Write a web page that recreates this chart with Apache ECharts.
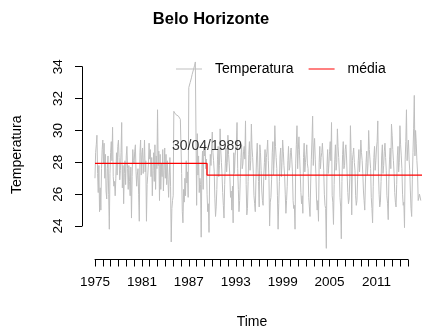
<!DOCTYPE html>
<html>
<head>
<meta charset="utf-8">
<script src="https://cdn.jsdelivr.net/npm/echarts@6/dist/echarts.min.js"></script>
<style>
	html, body { margin: 0; padding: 0; background: #fff; }
	#chart-div { width: 422px; height: 336px; }
</style>
</head>
<body>
<div id="chart-div"></div>
<script>
// série mensal, começa em jan/1975
var ano_inicio = 1975;
var temperatura = [
	27.0, 28.6, 29.1, 29.7, 27.3, 26.1, 27.8, 24.9, 26.4, 25.0, 27.6, 28.8, // 1975
	29.4, 27.9, 29.2, 27.0, 28.5, 26.2, 25.7, 27.6, 28.4, 26.0, 23.8, 27.3,
	28.6, 29.3, 28.1, 30.2, 27.1, 26.5, 26.8, 25.9, 27.0, 28.6, 27.2, 29.0,
	29.4, 28.3, 26.9, 27.5, 28.6, 30.5, 26.4, 27.8, 25.4, 27.3, 28.1, 26.6,
	28.4, 29.0, 27.6, 26.3, 27.8, 26.8, 25.9, 27.7, 24.5, 27.1, 28.8, 28.1,
	27.9, 28.7, 29.1, 27.4, 26.5, 27.2, 27.6, 26.0, 24.3, 28.6, 29.4, 27.2, // 1980
	28.5, 28.9, 27.3, 28.0, 29.4, 27.4, 28.1, 24.3, 26.6, 27.2, 27.9, 29.2,
	28.2, 28.8, 27.1, 28.3, 25.9, 27.5, 28.6, 26.8, 29.1, 26.3, 28.4, 27.6,
	31.3, 27.8, 28.7, 25.6, 28.5, 26.3, 27.9, 27.1, 28.8, 26.2, 27.5, 28.9,
	27.0, 28.5, 26.6, 28.1, 26.9, 25.8, 27.2, 28.3, 26.5, 23.0, 25.1, 25.6,
	25.9, 31.2, 31.1, 31.1, 31.0, 31.0, 30.9, 30.9, 30.9, 30.8, 30.8, 30.7, // 1985
	30.7, 27.3, 24.9, 24.2, 26.3, 25.5, 27.0, 25.9, 28.1, 26.7, 27.4, 25.8,
	32.7, 32.8, 33.0, 33.1, 33.3, 33.5, 33.6, 33.8, 33.9, 34.1, 34.3, 34.4,
	25.3, 29.8, 27.2, 28.4, 26.1, 27.0, 26.6, 23.3, 27.6, 28.7, 26.3, 28.9,
	28.4, 29.1, 27.6, 28.2, 26.0, 24.9, 25.4, 23.6, 27.3, 28.5, 27.8, 28.9,
	29.9, 28.6, 28.1, 27.4, 25.7, 24.6, 25.2, 26.3, 28.2, 29.0, 27.1, 27.8, // 1990
	30.1, 28.8, 28.0, 27.2, 26.1, 25.3, 24.5, 26.6, 27.9, 28.9, 27.4, 28.0,
	29.7, 28.5, 27.9, 27.1, 25.8, 26.2, 25.0, 26.5, 24.2, 28.6, 27.3, 28.4,
	28.9, 29.2, 30.5, 27.6, 26.3, 24.9, 25.6, 27.0, 28.3, 29.1, 27.6, 27.9,
	28.7, 29.0, 28.2, 30.6, 26.6, 24.7, 25.1, 26.8, 28.5, 29.3, 27.5, 28.1,
	30.4, 28.9, 28.3, 27.3, 25.9, 25.4, 24.9, 26.9, 28.4, 29.2, 27.7, 26.8, // 1995
	25.2, 29.1, 28.6, 27.5, 26.2, 25.6, 25.3, 27.1, 28.0, 28.8, 26.9, 28.3,
	28.7, 29.4, 28.1, 27.0, 24.0, 25.5, 25.8, 26.9, 28.6, 29.3, 27.2, 28.2,
	30.3, 29.0, 28.3, 27.6, 25.9, 23.8, 25.4, 26.8, 28.4, 28.9, 27.1, 28.0,
	29.4, 28.7, 27.8, 27.2, 26.0, 24.8, 25.6, 26.5, 28.1, 29.0, 27.5, 27.7,
	28.6, 28.9, 28.2, 27.4, 25.6, 25.1, 25.3, 23.8, 27.9, 29.1, 30.3, 27.6, // 2000
	28.8, 29.6, 28.4, 27.3, 26.1, 25.4, 25.9, 24.8, 28.3, 29.2, 27.4, 28.0,
	28.5, 29.1, 27.9, 27.6, 25.8, 25.2, 24.6, 26.7, 28.2, 29.4, 30.9, 27.8,
	28.9, 29.5, 28.2, 27.3, 25.7, 25.0, 25.6, 24.3, 28.0, 29.0, 27.6, 28.3,
	28.6, 29.2, 28.4, 27.5, 26.0, 25.3, 25.1, 22.6, 27.7, 28.8, 27.3, 27.9,
	28.7, 29.3, 28.1, 30.5, 25.9, 25.5, 24.1, 26.6, 28.2, 29.1, 27.5, 28.0, // 2005
	30.1, 29.0, 28.3, 27.4, 25.8, 25.2, 23.2, 26.8, 28.5, 29.3, 27.6, 27.8,
	28.8, 29.1, 28.4, 27.2, 26.1, 25.4, 25.7, 27.0, 30.3, 28.6, 24.7, 28.1,
	28.5, 28.9, 28.0, 27.5, 25.9, 25.3, 25.6, 26.9, 28.1, 28.8, 27.4, 28.2,
	29.4, 28.6, 28.1, 27.3, 26.2, 25.6, 25.0, 26.7, 28.0, 28.7, 27.2, 27.9,
	30.0, 28.8, 28.2, 27.6, 25.8, 25.1, 24.2, 26.5, 28.3, 29.0, 27.5, 28.1, // 2010
	28.9, 29.3, 30.6, 27.4, 26.0, 25.2, 25.5, 26.8, 28.4, 29.1, 27.3, 27.8,
	28.7, 29.2, 28.3, 27.5, 25.9, 25.4, 24.4, 26.9, 28.2, 28.9, 27.6, 30.4,
	29.7, 28.8, 28.1, 27.3, 26.1, 25.5, 25.2, 26.6, 28.4, 29.0, 27.4, 28.0,
	30.3, 29.1, 28.4, 27.6, 26.0, 25.3, 25.5, 23.9, 28.2, 29.3, 31.3, 28.1,
	28.9, 29.4, 28.2, 27.5, 26.2, 25.1, 24.6, 26.9, 28.6, 30.1, 32.2, 28.4, // 2015
	30.0, 29.2, 28.1, 27.4, 25.6, 25.8, 26.0, 25.9, 25.6
];

// média por segmento (ponto de mudança em 30/04/1989)
var media_quebras = [1975, 1989.33, 2016.82];
var media_niveis = [27.93, 27.2];

// rótulo do ponto de mudança
var rotulo_texto = "30/04/1989";
var rotulo_pos = [1989.33, 29];

// rótulos do eixo x
var anos_rotulo = [1975, 1981, 1987, 1993, 1999, 2005, 2011];

var fonte = "'Liberation Sans', Arial, sans-serif";

var dados_temp = temperatura.map(function (v, i) {
	return [ano_inicio + i / 12, v];
});
var dados_media = [];
for (var k = 0; k < media_niveis.length; k++) {
	dados_media.push([media_quebras[k], media_niveis[k]]);
	dados_media.push([media_quebras[k + 1], media_niveis[k]]);
}

var eixo_oculto = {
	axisLine: { show: false },
	axisTick: { show: false },
	axisLabel: { show: false },
	splitLine: { show: false }
};

var option = {
	animation: false,
	textStyle: { fontFamily: fonte },
	title: {
		text: "Belo Horizonte",
		left: "center",
		top: 6,
		textStyle: { fontFamily: fonte, fontSize: 16.5, fontWeight: "bold", color: "#000" }
	},
	legend: {
		left: 176,
		top: 62,
		padding: 0,
		icon: "rect",
		itemWidth: 26,
		itemHeight: 1,
		itemGap: 15,
		data: ["Temperatura", "média"],
		textStyle: { fontFamily: fonte, fontSize: 14, color: "#000", padding: [0, 0, 0, 8] }
	},
	grid: [
		// área dos dados
		{ left: 82, right: 0, top: 50, bottom: 76.5 },
		// eixo y à moda do R (só de 24 a 34)
		{ left: 82, width: 1, top: 66.7, bottom: 110 },
		// eixo x (1975 a 2015)
		{ left: 95, right: 14.2, top: 258.5, bottom: 76.5 }
	],
	xAxis: [
		Object.assign({
			gridIndex: 0, type: "value", min: 1973.34, max: 2016.82,
			name: "Time", nameLocation: "middle", nameGap: 55.5,
			nameTextStyle: { fontFamily: fonte, fontSize: 14, color: "#000" }
		}, eixo_oculto),
		{ gridIndex: 1, type: "value", show: false },
		{
			gridIndex: 2, type: "value", min: 1975, max: 2015, interval: 1,
			axisLine: { show: true, lineStyle: { color: "#000", width: 1 } },
			axisTick: { show: true, length: 7, lineStyle: { color: "#000" } },
			axisLabel: {
				margin: 16, fontSize: 13.5, color: "#000", fontFamily: fonte,
				formatter: function (v) {
					return anos_rotulo.indexOf(v) >= 0 ? String(v) : "";
				}
			},
			splitLine: { show: false }
		}
	],
	yAxis: [
		Object.assign({
			gridIndex: 0, type: "value", min: 21.9, max: 35.05,
			name: "Temperatura", nameLocation: "middle", nameRotate: 90, nameGap: 58,
			nameTextStyle: { fontFamily: fonte, fontSize: 14, color: "#000" }
		}, eixo_oculto),
		{
			gridIndex: 1, type: "value", min: 24, max: 34, interval: 2,
			axisLine: { show: true, lineStyle: { color: "#000", width: 1 } },
			axisTick: { show: true, length: 7, lineStyle: { color: "#000" } },
			axisLabel: { rotate: 90, margin: 17, fontSize: 13.5, color: "#000", fontFamily: fonte },
			splitLine: { show: false }
		},
		{ gridIndex: 2, type: "value", show: false }
	],
	series: [
		{
			name: "Temperatura",
			type: "line",
			xAxisIndex: 0, yAxisIndex: 0,
			z: 2,
			data: dados_temp,
			symbol: "none",
			showSymbol: false,
			lineStyle: { color: "#bebebe", width: 1 },
			itemStyle: { color: "#bebebe" }
		},
		{
			name: "média",
			type: "line",
			xAxisIndex: 0, yAxisIndex: 0,
			z: 4,
			data: dados_media,
			symbol: "none",
			showSymbol: false,
			lineStyle: { color: "#ff0000", width: 1.3, opacity: 1 },
			itemStyle: { color: "#ff0000" }
		},
		{
			name: "rotulo",
			type: "scatter",
			xAxisIndex: 0, yAxisIndex: 0,
			z: 5,
			data: [rotulo_pos],
			symbolSize: 1,
			silent: true,
			itemStyle: { color: "rgba(0,0,0,0)" },
			label: {
				show: true, position: "inside", formatter: rotulo_texto,
				fontFamily: fonte, fontSize: 14, color: "#000"
			}
		}
	]
};

var g_chart = echarts.init(document.getElementById("chart-div"));
g_chart.setOption(option);
</script>
</body>
</html>
